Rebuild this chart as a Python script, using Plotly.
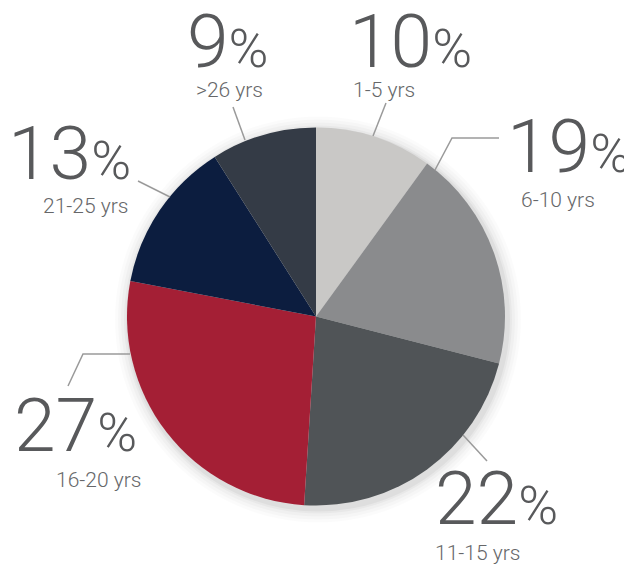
import plotly.graph_objects as go

# ---- data ----
categories = ["1-5 yrs", "6-10 yrs", "11-15 yrs", "16-20 yrs", "21-25 yrs", ">26 yrs"]
values = [10, 19, 22, 27, 13, 9]
colors = ["#c9c8c6", "#8a8b8d", "#505457", "#a41f35", "#0c1d3f", "#343b46"]

# page body has an 8px margin; figure is sized to fill the remaining window
OFF = 8
W, H = 632 - OFF, 565 - OFF
CX, CY, R = 316, 316.5, 189


def px(x):
    return (x - OFF) / W


def py(y):
    return 1 - (y - OFF) / H


fig = go.Figure()
fig.add_trace(go.Pie(
    labels=categories, values=values, sort=False, direction="clockwise",
    rotation=0, marker=dict(colors=colors, line=dict(width=0)),
    textinfo="none", hoverinfo="skip", showlegend=False,
    domain=dict(x=[px(CX - R), px(CX + R)], y=[py(CY + R), py(CY - R)]),
))

shapes = []
# soft shadow behind the pie
for d, a in [(14, 0.015), (11, 0.02), (8, 0.025), (5, 0.03), (3, 0.04)]:
    ox, oy = 2, 3
    shapes.append(dict(type="circle", xref="paper", yref="paper", layer="below",
                       x0=px(CX + ox - R - d), x1=px(CX + ox + R + d),
                       y0=py(CY + oy + R + d), y1=py(CY + oy - R - d),
                       fillcolor=f"rgba(0,0,0,{a})", line=dict(width=0)))

# leader lines (pixel paths)
leaders = [
    [(373, 136), (386, 103)],
    [(435, 170), (452, 138), (499, 138)],
    [(463, 435), (487, 461)],
    [(130, 354), (83, 354), (68, 386)],
    [(170, 197), (138, 181)],
    [(245, 140), (233, 107)],
]
for pts in leaders:
    path = "M " + " L ".join(f"{px(x)},{py(y)}" for x, y in pts)
    shapes.append(dict(type="path", xref="paper", yref="paper", path=path,
                       line=dict(color="#9a9a9a", width=1.5)))

TXT = "#58595b"
FONT = "Roboto"

# label layout: (left x of number, cap-middle y, left x of sub, sub middle y)
label_pos = [
    (348, 41, 352, 90),
    (506, 146, 520, 200),
    (434, 498, 434, 553),
    (13, 425, 55, 480),
    (7, 153, 42, 206),
    (186, 41, 195, 90),
]

annotations = []
for cat, v, (nx, ny, sx, sy) in zip(categories, values, label_pos):
    annotations.append(dict(
        xref="paper", yref="paper", x=px(nx), y=py(ny), xanchor="left", yanchor="middle",
        text=f"{v}<span style='font-size:54px'>%</span>", showarrow=False,
        font=dict(family=FONT, size=75, color=TXT, weight=300), borderpad=0))
    annotations.append(dict(
        xref="paper", yref="paper", x=px(sx), y=py(sy), xanchor="left", yanchor="middle",
        text=cat, showarrow=False,
        font=dict(family=FONT, size=21, color="#666769", weight=300), borderpad=0))

fig.update_layout(
    width=W, height=H, margin=dict(l=0, r=0, t=0, b=0),
    paper_bgcolor="white", plot_bgcolor="white",
    shapes=shapes, annotations=annotations, showlegend=False,
)
fig.write_html("out.html")
